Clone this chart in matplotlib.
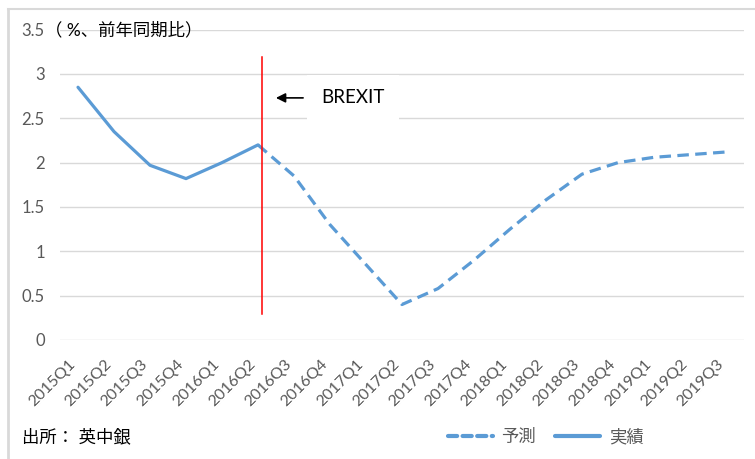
import matplotlib
matplotlib.use("Agg")
import matplotlib.pyplot as plt
import matplotlib.transforms as mtrans
from matplotlib.lines import Line2D

plt.rcParams['font.family'] = ['Lato', 'Noto Sans CJK JP', 'DejaVu Sans']

# quarters on the x axis
quarters = ['2015Q1', '2015Q2', '2015Q3', '2015Q4', '2016Q1', '2016Q2',
            '2016Q3', '2016Q4', '2017Q1', '2017Q2', '2017Q3', '2017Q4',
            '2018Q1', '2018Q2', '2018Q3', '2018Q4', '2019Q1', '2019Q2',
            '2019Q3']
# actual (実績) 2015Q1..2016Q2
actual = [2.85, 2.35, 1.97, 1.82, 2.0, 2.2]
# forecast (予測) 2016Q2..2019Q3
forecast = [2.2, 1.85, 1.3, 0.85, 0.4, 0.58, 0.9, 1.25, 1.58, 1.87,
            2.0, 2.06, 2.09, 2.12]
yticks = [0, 0.5, 1, 1.5, 2, 2.5, 3, 3.5]
ytick_labels = ['0', '0.5', '1', '1.5', '2', '2.5', '3', '3.5']

blue = '#5b9bd5'
grid = '#d9d9d9'
grey_txt = '#595959'

fig = plt.figure(figsize=(7.55, 4.59), dpi=100)
W, H = 755, 459
ax = fig.add_axes([60 / W, 1 - 340 / H, 684 / W, 310.4 / H])

xa = list(range(len(actual)))
xf = list(range(len(actual) - 1, len(actual) - 1 + len(forecast)))

ax.plot(xf, forecast, color=blue, lw=2.3, dashes=(3.6, 2.0),
        dash_capstyle='butt')
ax.plot(xa, actual, color=blue, lw=2.3, solid_capstyle='round',
        solid_joinstyle='round')

ax.set_xlim(-0.5, len(quarters) - 0.5)
ax.set_ylim(0, 3.5)
ax.set_yticks(yticks)
ax.set_yticklabels(ytick_labels)
ax.set_xticks(range(len(quarters)))
ax.set_xticklabels(quarters, rotation=45, ha='right', va='center',
                   rotation_mode='anchor')
ax.tick_params(axis='both', length=0, colors=grey_txt, labelsize=11.5)
ax.tick_params(axis='y', pad=11, labelsize=12)
ax.tick_params(axis='x', pad=16)
# nudge the slanted labels a little to the left
shift = mtrans.ScaledTranslation(-5 / 100, 0, fig.dpi_scale_trans)
for lab in ax.get_xticklabels():
    lab.set_transform(lab.get_transform() + shift)
ax.yaxis.grid(True, color=grid, lw=1)
ax.set_axisbelow(True)
for s in ax.spines.values():
    s.set_visible(False)

# brexit marker
ax.plot([5.11, 5.11], [0.29, 3.19], color='red', lw=1.1)
ax.annotate('', xy=(5.42, 2.73), xytext=(6.33, 2.73),
            arrowprops=dict(arrowstyle='-|>', color='black', lw=1.2,
                            mutation_scale=14))
ax.text(7.64, 2.73, 'BREXIT', fontsize=13.5, ha='center', va='center',
        color='black',
        bbox=dict(boxstyle='square,pad=0.75', fc='white', ec='none'))

# unit label next to top tick
fig.text(45 / W, 1 - 30 / H, '（ %、前年同期比）', fontsize=12.5,
         va='center', ha='left', color='black')

# source
fig.text(22 / W, 1 - 437 / H, '出所： 英中銀', fontsize=12.5, va='center',
         color='black')

# legend
handles = [Line2D([], [], color=blue, lw=3, dashes=(2.2, 1.3),
                  dash_capstyle='round'),
           Line2D([], [], color=blue, lw=3, solid_capstyle='round')]
fig.legend(handles, ['予測', '実績'], loc='center left',
           bbox_to_anchor=(432 / W, 1 - 437 / H), ncol=2, frameon=False,
           fontsize=12.5, labelcolor=grey_txt, handlelength=2.6,
           handletextpad=0.5, columnspacing=1.1)

# outer frame lines (top and left)
fig.add_artist(Line2D([8 / W, 1], [1 - 9 / H, 1 - 9 / H], color=grid, lw=1.5))
fig.add_artist(Line2D([8 / W, 8 / W], [0, 1 - 9 / H], color=grid, lw=2))

fig.savefig('out.png', dpi=100)
